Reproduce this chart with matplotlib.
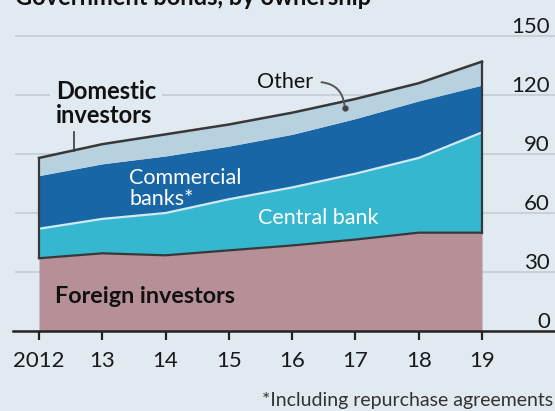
import matplotlib
matplotlib.use("Agg")
import matplotlib.pyplot as plt

# data
years = [2012, 2013, 2014, 2015, 2016, 2017, 2018, 2019]
foreign = [37, 39.5, 38.5, 41, 43.5, 46.5, 50, 50]
central_top = [52, 57, 60, 67, 73, 80, 88, 101]
commercial_top = [79, 85, 89, 94, 100, 108, 117, 125]
total = [88, 95, 100, 105, 111, 118, 126, 137]

xtick_labels = ["2012", "13", "14", "15", "16", "17", "18", "19"]
yticks = [0, 30, 60, 90, 120, 150]

BG = "#e1e9f1"
C_FOREIGN = "#b68f97"
C_CENTRAL = "#35b8cf"
C_COMM = "#1866a5"
C_OTHER = "#b8d1de"
C_EDGE = "#383838"
C_GRID = "#c6ced6"

plt.rcParams["font.family"] = ["Lato", "DejaVu Sans"]

W, H = 555, 411
fig = plt.figure(figsize=(W / 100, H / 100), dpi=100)
fig.patch.set_facecolor(BG)
ax = fig.add_axes([0, 0, 1, 1])
ax.set_facecolor(BG)

# pixel layout of the plot area
px_x0, px_x1 = 39, 482      # 2012 .. 2019
px_y0, px_y150 = 331, 36    # 0 .. 150
ppx = (px_x1 - px_x0) / (years[-1] - years[0])
ppy = (px_y0 - px_y150) / 150
ax.set_xlim(years[0] - px_x0 / ppx, years[0] + (W - px_x0) / ppx)
ax.set_ylim(-(H - px_y0) / ppy, px_y0 / ppy)

# gridlines
x_grid0 = years[0] - (px_x0 - 15) / ppx
ax.hlines(yticks[1:], x_grid0, ax.get_xlim()[1], color=C_GRID, lw=1.3, zorder=1)

# stacked areas
ax.fill_between(years, 0, foreign, color=C_FOREIGN, lw=0, zorder=2)
ax.fill_between(years, foreign, central_top, color=C_CENTRAL, lw=0, zorder=2)
ax.fill_between(years, central_top, commercial_top, color=C_COMM, lw=0, zorder=2)
ax.fill_between(years, commercial_top, total, color=C_OTHER, lw=0, zorder=2)

ax.plot(years, central_top, color="#cfeaf2", lw=1.6, zorder=3)
ax.plot(years, foreign, color=C_EDGE, lw=1.6, zorder=3)
ax.plot(years, total, color=C_EDGE, lw=1.8, zorder=3)
ax.plot([years[0], years[0]], [foreign[0], total[0]], color=C_EDGE, lw=1.6, zorder=3)
ax.plot([years[-1], years[-1]], [foreign[-1], total[-1]], color=C_EDGE, lw=1.6, zorder=3)

# x axis
for s in ["top", "left", "right"]:
    ax.spines[s].set_visible(False)
ax.spines["bottom"].set_position(("data", 0))
ax.spines["bottom"].set_bounds(years[0] - (px_x0 - 13) / ppx, ax.get_xlim()[1])
ax.spines["bottom"].set_linewidth(1.8)
ax.spines["bottom"].set_color("#222222")
ax.spines["bottom"].set_zorder(4)
ax.set_xticks(years)
ax.set_xticklabels(xtick_labels)
ax.tick_params(axis="x", direction="out", length=6.5, width=1.6, color="#222222",
               pad=8, labelsize=16, labelcolor="#1a1a1a")
ax.set_yticks([])

# right-hand value labels
for v in yticks:
    ax.annotate(str(v), xy=(550 / W, v), xycoords=ax.get_yaxis_transform(),
                xytext=(0, 2.5), textcoords="offset points", ha="right",
                va="baseline", fontsize=16, color="#1a1a1a")

# labels
ax.text(2012.27, 105.7, "Domestic\ninvestors", fontsize=17, fontweight="bold",
        color="#111111", va="baseline", ha="left", linespacing=1.05, zorder=5,
        bbox=dict(facecolor=BG, edgecolor="none", pad=4))
ax.plot([2012.55, 2012.55], [91.5, 101], color=C_EDGE, lw=1.2, zorder=5)

ax.text(2012.25, 14.2, "Foreign investors", fontsize=16.8, fontweight="bold",
        color="#111111", va="baseline", ha="left", zorder=5)
ax.text(2013.43, 64.1, "Commercial\nbanks*", fontsize=15.5, color="white",
        va="baseline", ha="left", linespacing=1.05, zorder=5)
ax.text(2015.46, 54.4, "Central bank", fontsize=15.5, color="white",
        va="baseline", ha="left", zorder=5)
ax.text(2016.33, 123.5, "Other", fontsize=15.5, color="#111111",
        va="baseline", ha="right", zorder=5)
ax.annotate("", xy=(2016.83, 113.4), xytext=(2016.42, 126.6),
            arrowprops=dict(arrowstyle="-", color="#555555", lw=1.4,
                            connectionstyle="arc3,rad=-0.45"), zorder=5)
ax.plot([2016.83], [113.4], "o", color="#444444", ms=3.5, zorder=6)

# title (cropped at top, as in the source) and footnote
fig.text(15 / W, 1 - 5 / H, "Government bonds, by ownership", fontsize=17,
         fontweight="bold", color="#111111", va="baseline", ha="left")
fig.text(553 / W, 1 - 406 / H, "*Including repurchase agreements", fontsize=14,
         color="#333333", va="baseline", ha="right")

fig.savefig("out.png", dpi=100, facecolor=BG)
